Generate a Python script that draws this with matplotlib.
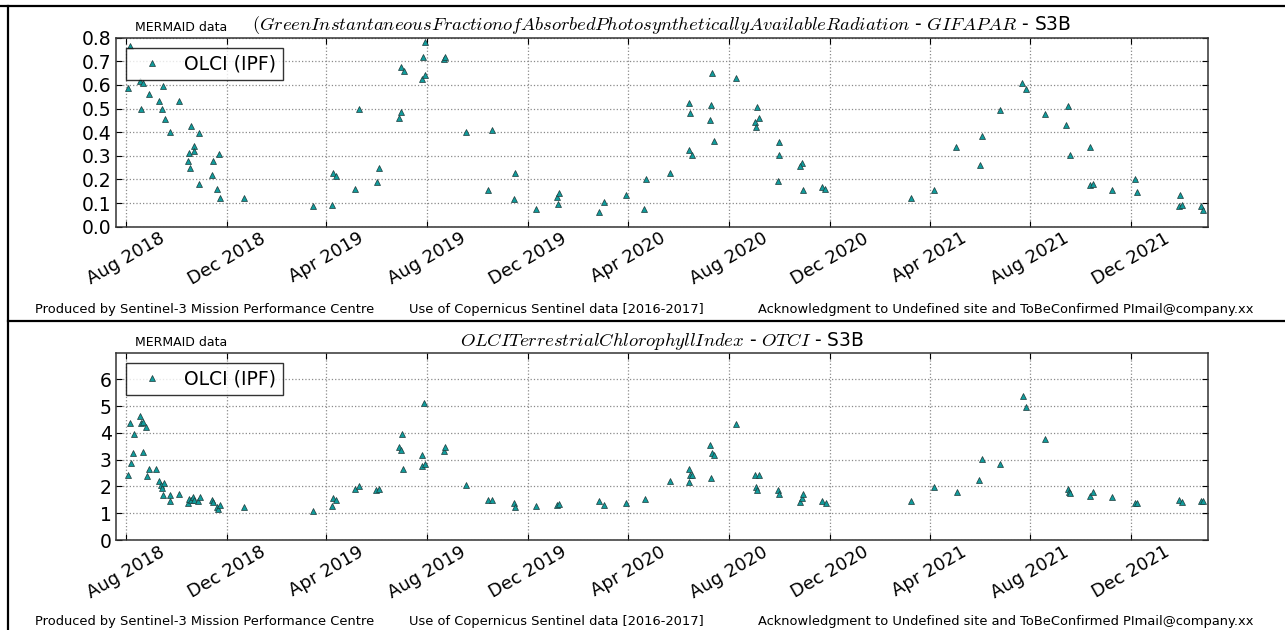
import matplotlib
matplotlib.use("Agg")
import matplotlib.pyplot as plt
import matplotlib.dates as mdates
from matplotlib.lines import Line2D
import pandas as pd

matplotlib.rcParams['font.family'] = 'DejaVu Sans'
matplotlib.rcParams['mathtext.fontset'] = 'cm'

# GIFAPAR time series (S3B, OLCI IPF)
gifapar_dates = [
    "2018-08-03", "2018-08-06", "2018-08-18", "2018-08-22", "2018-08-19", "2018-08-29",
    "2018-09-10", "2018-09-14", "2018-09-15", "2018-09-17", "2018-09-24", "2018-10-04",
    "2018-10-16", "2018-10-15", "2018-10-18", "2018-10-19", "2018-10-22", "2018-10-23",
    "2018-10-28", "2018-10-29", "2018-11-13", "2018-11-14", "2018-11-20", "2018-11-22",
    "2018-11-23", "2018-12-22", "2019-03-16", "2019-04-08", "2019-04-09", "2019-04-13",
    "2019-05-06", "2019-05-10", "2019-06-01", "2019-06-04", "2019-06-28", "2019-07-01",
    "2019-06-30", "2019-07-04", "2019-07-29", "2019-07-27", "2019-07-26", "2019-07-30",
    "2019-08-22", "2019-08-23", "2019-09-17", "2019-10-19", "2019-10-14", "2019-11-15",
    "2019-11-14", "2019-12-11", "2020-01-05", "2020-01-08", "2020-01-07", "2020-02-26",
    "2020-03-02", "2020-03-29", "2020-04-20", "2020-04-22", "2020-05-21", "2020-06-13",
    "2020-06-17", "2020-06-14", "2020-06-15", "2020-07-11", "2020-07-10", "2020-07-09",
    "2020-07-14", "2020-08-10", "2020-09-04", "2020-09-06", "2020-09-02", "2020-09-03",
    "2020-10-01", "2020-09-30", "2020-09-29", "2020-10-28", "2020-10-26", "2020-10-30",
    "2020-11-22", "2020-11-25", "2021-03-10", "2021-04-06", "2021-05-03", "2021-06-01",
    "2021-06-03", "2021-06-26", "2021-07-22", "2021-07-27", "2021-08-19", "2021-09-16",
    "2021-09-14", "2021-09-18", "2021-10-13", "2021-10-12", "2021-10-16", "2021-11-08",
    "2021-12-06", "2021-12-09", "2022-01-29", "2022-01-28", "2022-02-01", "2022-02-24",
    "2022-02-27",
]
gifapar_values = [
    0.587, 0.763, 0.618, 0.608, 0.499, 0.563,
    0.530, 0.498, 0.596, 0.457, 0.400, 0.533,
    0.311, 0.277, 0.250, 0.427, 0.343, 0.321,
    0.397, 0.182, 0.220, 0.280, 0.158, 0.307,
    0.122, 0.122, 0.088, 0.090, 0.228, 0.216,
    0.158, 0.499, 0.191, 0.247, 0.462, 0.486,
    0.678, 0.660, 0.780, 0.718, 0.625, 0.643,
    0.710, 0.718, 0.401, 0.411, 0.157, 0.226,
    0.116, 0.076, 0.126, 0.143, 0.096, 0.061,
    0.103, 0.133, 0.076, 0.202, 0.229, 0.325,
    0.302, 0.522, 0.483, 0.650, 0.514, 0.451,
    0.362, 0.630, 0.505, 0.462, 0.444, 0.424,
    0.358, 0.305, 0.192, 0.271, 0.257, 0.155,
    0.167, 0.158, 0.123, 0.157, 0.339, 0.263,
    0.386, 0.495, 0.609, 0.584, 0.475, 0.509,
    0.430, 0.302, 0.336, 0.177, 0.181, 0.154,
    0.201, 0.146, 0.134, 0.088, 0.093, 0.086,
    0.072,
]

# OTCI time series (S3B, OLCI IPF)
otci_dates = [
    "2018-08-03", "2018-08-06", "2018-08-07", "2018-08-10", "2018-08-11", "2018-08-18",
    "2018-08-19", "2018-08-22", "2018-08-22", "2018-08-25", "2018-08-27", "2018-08-29",
    "2018-09-07", "2018-09-10", "2018-09-12", "2018-09-14", "2018-09-16", "2018-09-15",
    "2018-09-23", "2018-09-24", "2018-10-04", "2018-10-15", "2018-10-17", "2018-10-19",
    "2018-10-21", "2018-10-23", "2018-10-27", "2018-10-30", "2018-11-13", "2018-11-14",
    "2018-11-19", "2018-11-21", "2018-11-23", "2018-12-22", "2019-03-16", "2019-04-08",
    "2019-04-09", "2019-04-13", "2019-05-06", "2019-05-10", "2019-05-31", "2019-06-04",
    "2019-06-28", "2019-06-30", "2019-07-02", "2019-07-03", "2019-07-26", "2019-07-28",
    "2019-07-26", "2019-07-30", "2019-08-22", "2019-08-23", "2019-09-17", "2019-10-14",
    "2019-10-19", "2019-11-14", "2019-11-15", "2019-12-11", "2020-01-05", "2020-01-08",
    "2020-02-26", "2020-03-02", "2020-03-29", "2020-04-21", "2020-05-21", "2020-06-13",
    "2020-06-15", "2020-06-17", "2020-06-14", "2020-07-09", "2020-07-11", "2020-07-14",
    "2020-07-10", "2020-08-10", "2020-09-02", "2020-09-06", "2020-09-03", "2020-09-04",
    "2020-09-29", "2020-10-01", "2020-10-26", "2020-10-28", "2020-10-30", "2020-11-22",
    "2020-11-26", "2021-03-10", "2021-04-06", "2021-05-04", "2021-05-31", "2021-06-03",
    "2021-06-26", "2021-07-23", "2021-07-27", "2021-08-19", "2021-09-16", "2021-09-17",
    "2021-09-18", "2021-10-12", "2021-10-16", "2021-11-08", "2021-12-06", "2021-12-09",
    "2022-01-28", "2022-02-01", "2022-02-24", "2022-02-27",
]
otci_values = [
    2.43, 4.36, 2.86, 3.24, 3.96, 4.62,
    4.36, 4.40, 3.29, 4.20, 2.40, 2.64,
    2.64, 2.20, 2.05, 1.93, 2.12, 1.68,
    1.68, 1.46, 1.72, 1.39, 1.53, 1.49,
    1.59, 1.49, 1.46, 1.59, 1.49, 1.42,
    1.25, 1.16, 1.31, 1.25, 1.10, 1.27,
    1.57, 1.49, 1.89, 2.03, 1.87, 1.89,
    3.46, 3.36, 3.97, 2.64, 3.18, 5.13,
    2.76, 2.84, 3.34, 3.46, 2.07, 1.49,
    1.49, 1.39, 1.23, 1.28, 1.31, 1.33,
    1.46, 1.31, 1.37, 1.54, 2.20, 2.65,
    2.43, 2.43, 2.18, 3.55, 3.24, 3.19,
    2.32, 4.32, 2.42, 2.42, 1.99, 1.88,
    1.86, 1.71, 1.43, 1.58, 1.71, 1.47,
    1.37, 1.44, 1.98, 1.79, 2.23, 3.01,
    2.84, 5.38, 4.97, 3.77, 1.91, 1.81,
    1.74, 1.66, 1.78, 1.59, 1.38, 1.38,
    1.48, 1.41, 1.47, 1.47,
]

titles = [
    r"$(Green Instantaneous Fraction of Absorbed Photosynthetically Available Radiation$"
    r" - $GIFAPAR$ - S3B",
    r"$OLCI Terrestrial Chlorophyll Index$ - $OTCI$ - S3B",
]
footers = [
    "Produced by Sentinel-3 Mission Performance Centre",
    "Use of Copernicus Sentinel data [2016-2017]",
    "Acknowledgment to Undefined site and ToBeConfirmed PImail@company.xx",
]

marker_color = '#109c9c'
x_min = pd.Timestamp("2018-07-20")
x_max = pd.Timestamp("2022-03-04 12:00")

fig = plt.figure(figsize=(12.85, 6.3), dpi=100)
fig.patch.set_facecolor('white')

W, H = 1285.0, 630.0
panels = [
    # (dates, values, ylim, yticks, axes top px, axes bottom px, footer y px)
    (gifapar_dates, gifapar_values, (0, 0.8), [0.0, 0.1, 0.2, 0.3, 0.4, 0.5, 0.6, 0.7, 0.8], 37.7, 226.7, 309),
    (otci_dates, otci_values, (0, 6.98), [0, 1, 2, 3, 4, 5, 6], 353.0, 540.0, 622),
]

for i, (dates, values, ylim, yticks, top, bottom, foot_y) in enumerate(panels):
    ax = fig.add_axes([116 / W, 1 - bottom / H, (1208 - 116) / W, (bottom - top) / H])
    ax.plot(pd.to_datetime(dates), values, linestyle='none', marker='^', markersize=5,
            markerfacecolor=marker_color, markeredgecolor='#1f3a3a', markeredgewidth=0.5,
            label='OLCI (IPF)')
    ax.set_xlim(x_min, x_max)
    ax.set_ylim(*ylim)
    ax.set_yticks(yticks)
    if i == 0:
        ax.set_yticklabels(["%.1f" % t for t in yticks])
    ax.xaxis.set_major_locator(mdates.MonthLocator(bymonth=[4, 8, 12]))
    ax.xaxis.set_major_formatter(mdates.DateFormatter('%b %Y'))
    ax.grid(True, color='#8a8a8a', linestyle=':', linewidth=0.9)
    ax.tick_params(axis='y', direction='in', right=True, length=4, width=0.8,
                   labelsize=13.5, pad=3)
    ax.tick_params(axis='x', direction='in', top=True, length=4, width=0.8,
                   labelsize=13, pad=2)
    for lab in ax.get_xticklabels():
        lab.set_rotation(30)
        lab.set_ha('center')
    for s in ax.spines.values():
        s.set_color('#333333')
        s.set_linewidth(1.1)
    leg = ax.legend(loc='upper left', numpoints=1, fancybox=False, fontsize=13.5,
                    borderaxespad=0.55, handletextpad=0.75, borderpad=0.35)
    leg.get_frame().set_edgecolor('black')
    leg.get_frame().set_linewidth(1.0)

    ax.text(0.017, 1 + 10.0 / (bottom - top), "MERMAID data", transform=ax.transAxes,
            fontsize=9, va='center', ha='left')
    fig.text(662 / W, 1 - (top - 12.5) / H, titles[i], fontsize=13.4, ha='center', va='center')

    fig.text(35 / W, 1 - foot_y / H, footers[0], fontsize=9.4, va='center', ha='left')
    fig.text(409 / W, 1 - foot_y / H, footers[1], fontsize=9.4, va='center', ha='left')
    fig.text(758 / W, 1 - foot_y / H, footers[2], fontsize=9.4, va='center', ha='left')

# table-like frame around the two panels
for xs, ys in [([0, W], [6, 6]), ([8, 8], [6, H]), ([8, W], [320.5, 320.5])]:
    fig.add_artist(Line2D([x / W for x in xs], [1 - y / H for y in ys],
                          transform=fig.transFigure, color='black', linewidth=1.6))

fig.savefig('out.png', dpi=100, facecolor='white')
